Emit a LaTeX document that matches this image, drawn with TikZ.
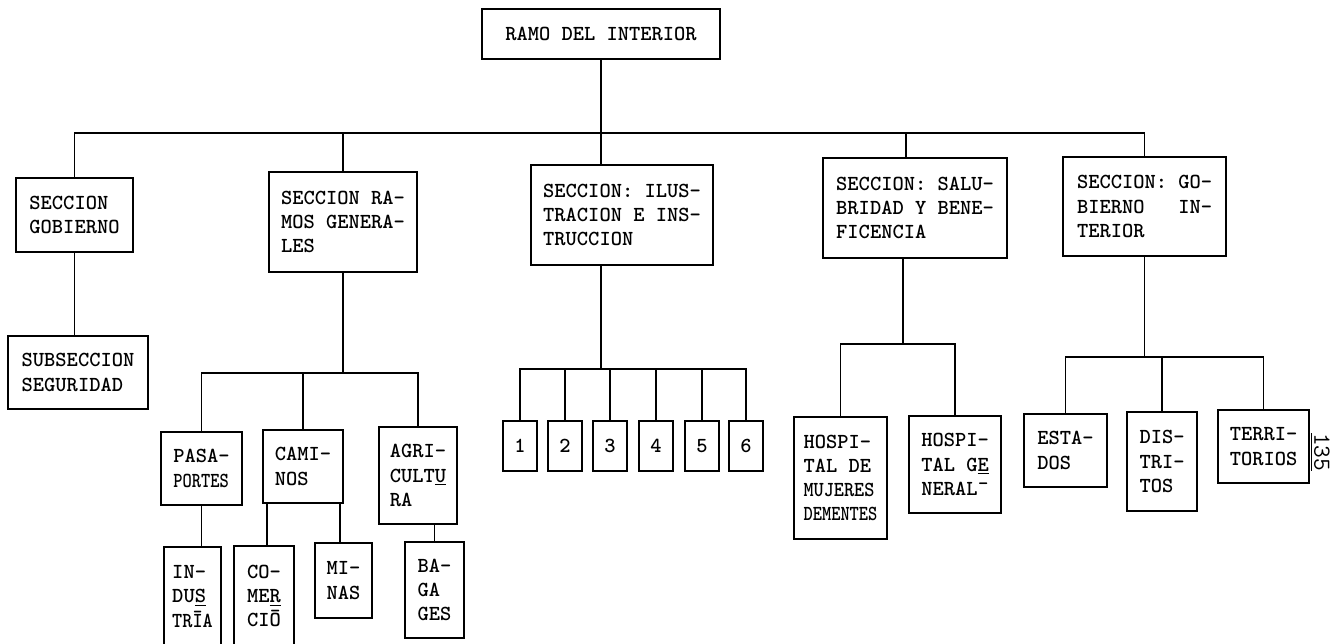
\documentclass[tikz,border=0pt]{standalone}

\newcommand{\squeezed}[2][0.82]{\scalebox{#1}[1]{#2}}

\begin{document}
\begin{tikzpicture}[x=0.02cm, y=-0.02cm,
  every node/.style={font=\ttfamily\bfseries\fontsize{12.2}{13.8}\selectfont},
  orgbox/.style={draw, line width=1.1pt, align=left, inner sep=2pt},
  boxsize/.style 2 args={minimum width=#1*0.02cm, minimum height=#2*0.02cm},
  link/.style={line width=1.1pt}]
  \useasboundingbox (0,0) rectangle (1334,643);

  % top and first level
  \node[orgbox, boxsize={238}{50}] (ramo) at (601,34) {RAMO DEL INTERIOR};
  \node[orgbox, boxsize={117}{74}] (gob) at (74.5,215) {SECCION\\GOBIERNO};
  \node[orgbox, boxsize={148}{100}] (rg) at (343,222) {SECCION RA-\\MOS GENERA-\\LES};
  \node[orgbox, boxsize={182}{100}] (ilu) at (622,215) {SECCION: ILUS-\\TRACION E INS-\\TRUCCION};
  \node[orgbox, boxsize={184}{100}] (sal) at (915,208) {SECCION: SALU-\\BRIDAD Y BENE-\\FICENCIA};
  \node[orgbox, boxsize={163}{99}] (gi) at (1144.5,206.5) {SECCION: GO-\\BIERNO\ \ \ IN-\\TERIOR};

  % second level
  \node[orgbox, boxsize={140}{73}] (seg) at (78,372.5) {SUBSECCION\\SEGURIDAD};
  \node[orgbox, boxsize={81}{73}] (pas) at (201.5,468.5) {PASA-\\\squeezed{PORTES}};
  \node[orgbox, boxsize={80}{73}] (cam) at (303,466.5) {CAMI-\\NOS};
  \node[orgbox, boxsize={78}{97}] (agr) at (418,475.5) {AGRI-\\CULT\underline{U}\\RA};
  \foreach \k/\px in {1/520,2/565,3/610,4/656,5/702,6/746}
    \node[orgbox, boxsize={34}{50}] (n\k) at (\px,446) {\k};
  \node[orgbox, boxsize={93}{122}, inner xsep=1pt] (hmd) at (840.5,478)
    {HOSPI-\\TAL DE\\\squeezed[0.9]{MUJERES}\\\squeezed{DEMENTES}};
  \node[orgbox, boxsize={92}{97}] (hg) at (955,464.5) {HOSPI-\\TAL G\underline{E}\\NERAL\textasciimacron};
  \node[orgbox, boxsize={83}{73}] (est) at (1065.5,450.5) {ESTA-\\DOS};
  \node[orgbox, boxsize={70}{99}] (dis) at (1162,461.5) {DIS-\\TRI-\\TOS};
  \node[orgbox, boxsize={91}{73}] (ter) at (1263.5,446.5) {TERRI-\\TORIOS};

  % third level
  \node[orgbox, boxsize={57}{99}] (ind) at (192.5,596.5) {IN-\\DU\underline{S}\\\squeezed[0.9]{TR\=IA}};
  \node[orgbox, boxsize={60}{100}] (com) at (264,596) {CO-\\ME\underline{R}\\CI\=O};
  \node[orgbox, boxsize={57}{75}] (min) at (343.5,580.5) {MI-\\NAS};
  \node[orgbox, boxsize={59}{96}] (bag) at (434.5,590) {BA-\\GA\\GES};

  \node[rotate=-90, font=\ttfamily\fontsize{14}{14}\selectfont] (pag) at (1320,452) {\underline{135}};

  % connectors
  \coordinate (topbar) at (0,133);
  \draw[link] (ramo.south) -- (ramo.south |- ilu.north);
  \draw[link] (gob.north) |- (topbar -| gi.north) -- (gi.north);
  \draw[link] (rg.north) -- (rg.north |- topbar);
  \coordinate (saltop) at ([xshift=-5pt]sal.north);
  \draw[link] (saltop) -- (saltop |- topbar);

  \draw[link] (gob.south) -- (gob.south |- seg.north);

  \coordinate (rgbar) at (0,373);
  \draw[link] (rg.south) -- (rg.south |- rgbar);
  \draw[link] (pas.north) |- (rgbar -| agr.north) -- (agr.north);
  \draw[link] (cam.north) -- (cam.north |- rgbar);
  \draw[link] (pas.south) -- (pas.south |- ind.north);
  \coordinate (comtop) at ([xshift=1.5pt]com.north);
  \draw[link] (comtop) -- (comtop |- cam.south);
  \coordinate (camright) at ([xshift=-2pt]cam.south east);
  \draw[link] (camright) -- (camright |- min.north);
  \draw[link] (bag.north) -- (bag.north |- agr.south);

  \coordinate (ilubar) at (0,369);
  \draw[link] (ramo.south |- ilu.south) -- (ramo.south |- ilubar);
  \draw[link] (n1.north) |- (ilubar -| n6.north) -- (n6.north);
  \foreach \k in {2,...,5}
    \draw[link] (n\k.north) -- (n\k.north |- ilubar);

  \coordinate (salbar) at (0,344);
  \coordinate (salbot) at ([xshift=-7pt]sal.south);
  \draw[link] (salbot) -- (salbot |- salbar);
  \draw[link] (hmd.north) |- (salbar -| hg.north) -- (hg.north);

  \coordinate (gibar) at (0,357);
  \draw[link] (gi.south) -- (gi.south |- gibar);
  \draw[link] (est.north) |- (gibar -| ter.north) -- (ter.north);
  \draw[link] (dis.north) -- (dis.north |- gibar);
\end{tikzpicture}
\end{document}
